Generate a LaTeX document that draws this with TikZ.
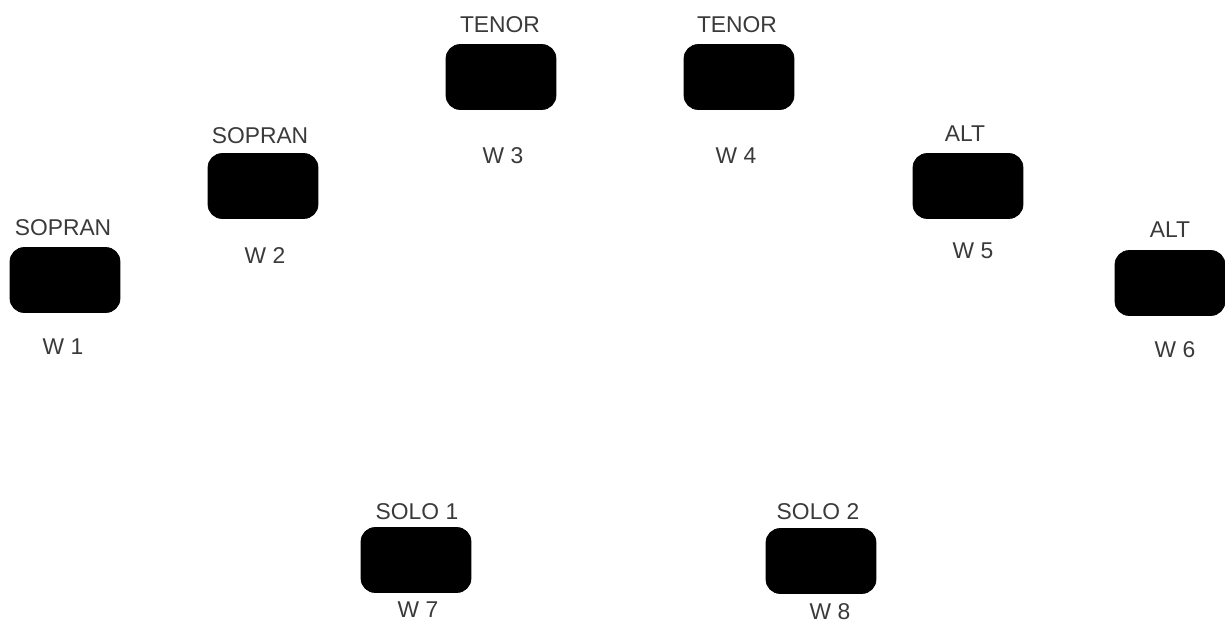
\documentclass[tikz,border=0pt]{standalone}
\usepackage{fontspec}
\setmainfont{Liberation Sans}
\usetikzlibrary{positioning}
\definecolor{labelgray}{HTML}{3A3A3A}
\tikzset{
    seat/.style={
                fill=black,
                draw=black,
                rounded corners=8pt,
                minimum width=2.2cm,
                minimum height=1.3cm
            },
        part/.style={
                text=labelgray,
                font=\fontsize{13}{15}\selectfont,
                inner sep=0pt
            },
}

\begin{document}
\begin{tikzpicture}[x=0.02cm,y=-0.02cm]
  \useasboundingbox (0,0) rectangle (1225,626);
  % Seats
  \node[seat] (w1) at (65,280) {};
  \node[seat] (w2) at (263,186) {};
  \node[seat] (w3) at (501,77) {};
  \node[seat] (w4) at (739,77) {};
  \node[seat] (w5) at (968,186) {};
  \node[seat] (w6) at (1170,283) {};
  \node[seat] (w7) at (416,560) {};
  \node[seat] (w8) at (821,561) {};
  % Voices
  \node[part] (v1) at (63,228) {SOPRAN};
  \node[part] (v2) at (260,136) {SOPRAN};
  \node[part] (v3) at (500,25) {TENOR};
  \node[part] (v4) at (737,25) {TENOR};
  \node[part] (v5) at (965,134) {ALT};
  \node[part] (v6) at (1170,230) {ALT};
  \node[part] (v7) at (417,512) {SOLO 1};
  \node[part] (v8) at (818,512) {SOLO 2};
  % Numbers
  \node[part] (n1) at (63,347) {W 1};
  \node[part] (n2) at (265,256) {W 2};
  \node[part] (n3) at (503,156) {W 3};
  \node[part] (n4) at (736,156) {W 4};
  \node[part] (n5) at (973,251) {W 5};
  \node[part] (n6) at (1175,350) {W 6};
  \node[part] (n7) at (418,610) {W 7};
  \node[part] (n8) at (830,612) {W 8};
\end{tikzpicture}
\end{document}
